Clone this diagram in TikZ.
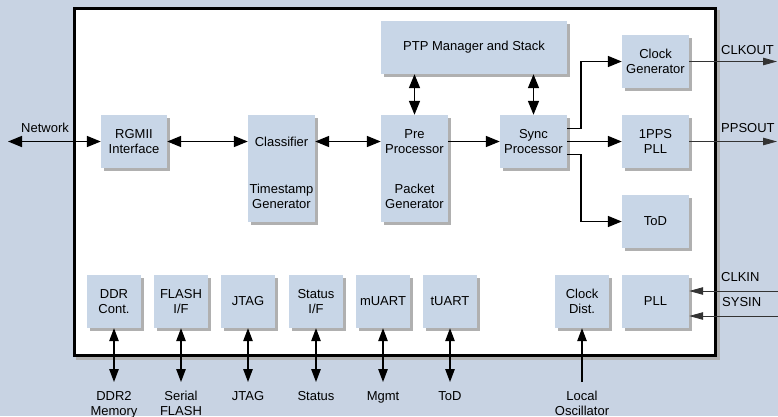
\documentclass[tikz,border=0pt]{standalone}
\usepackage{fontspec}
\setmainfont{Liberation Sans}
\usetikzlibrary{arrows.meta,shadows,calc}

\definecolor{bgblue}{RGB}{200,211,227}
\definecolor{boxblue}{RGB}{200,214,231}
\definecolor{shadowgrey}{RGB}{176,176,176}

\begin{document}
\begin{tikzpicture}[x=1pt,y=-1pt,
  font=\fontsize{13}{15}\selectfont,
  blk/.style={fill=boxblue, draw=none, inner sep=0pt, align=center,
    general shadow={fill=shadowgrey, shadow xshift=3pt, shadow yshift=-3pt}},
  sblk/.style={blk, minimum width=54pt, minimum height=53pt},
  wblk/.style={blk, minimum width=67pt, minimum height=53pt},
  tblk/.style={blk, minimum width=67pt, minimum height=107pt},
  link/.style={line width=1.6pt, {Triangle[length=14pt,width=11pt]}-{Triangle[length=14pt,width=11pt]}},
  feed/.style={line width=1.6pt, -{Triangle[length=14pt,width=11pt]}},
  busarrow/.style={line width=1.2pt, {Triangle[length=13pt,width=9.5pt]}-{Triangle[length=13pt,width=9.5pt]}},
  sigline/.style={line width=0.8pt, draw=black!80, -{Triangle[length=14pt,width=7.5pt]}},
  lbl/.style={inner sep=0pt, align=center, anchor=north}]
\useasboundingbox (0,0) rectangle (778,416);
\fill[bgblue] (0,0) rectangle (778,416);
\draw[shadowgrey, line width=3pt] (77.5,11.5) rectangle (718,358.5);
\draw[line width=3pt, fill=white] (74.5,8.5) rectangle (715,355.5);

\node[wblk, minimum width=66pt] (rgmii) at (134,141.5) {RGMII\\Interface};
\node[tblk] (cls) at (281.5,168.5) {};
\node[tblk] (pre) at (414.5,168.5) {};
\node[blk, minimum width=186pt, minimum height=53pt] (ptp) at (474,47.5) {PTP Manager and Stack};
\node[wblk] (sync) at (533.5,141.5) {Sync\\Processor};
\node[wblk] (clkgen) at (655.5,61.5) {Clock\\Generator};
\node[wblk] (pps) at (655.5,141.5) {1PPS\\PLL};
\node[wblk] (tod) at (655.5,221.5) {ToD};
\node[wblk] (pll) at (655.5,301.5) {PLL};
\node[sblk] (cdist) at (582,301.5) {Clock\\Dist.};
\node[sblk] (ddr) at (114,301.5) {DDR\\Cont.};
\node[sblk] (flash) at (181,301.5) {FLASH\\I/F};
\node[sblk] (jtag) at (248,301.5) {JTAG};
\node[sblk] (status) at (316,301.5) {Status\\I/F};
\node[sblk] (muart) at (383,301.5) {mUART};
\node[sblk] (tuart) at (450,301.5) {tUART};

\node (clsname) at (281.5,141.5) {Classifier};
\node[align=center] (clsts) at (281.5,196.5) {Timestamp\\Generator};
\node[align=center] (prename) at (414.5,141.5) {Pre\\Processor};
\node[align=center] (prepkt) at (414.5,196.5) {Packet\\Generator};

\coordinate (net) at (8,141.5);
\coordinate (clkout) at (777,61.5);
\coordinate (ppsout) at (777,141.5);
\coordinate (clkin) at (778,291);
\coordinate (sysin) at (778,316);
\coordinate (ddrport) at (114,382);
\coordinate (flashport) at (181,382);
\coordinate (jtagport) at (248,382);
\coordinate (statusport) at (316,382);
\coordinate (muartport) at (383,382);
\coordinate (tuartport) at (450,382);
\coordinate (osc) at (582,382);

\node (netlbl) at (45,128) {Network};
\node[anchor=west, inner sep=0pt] (clkoutlbl) at (721,50) {CLKOUT};
\node[anchor=west, inner sep=0pt] (ppsoutlbl) at (721,128) {PPSOUT};
\node[anchor=west, inner sep=0pt] (clkinlbl) at (721,277) {CLKIN};
\node[anchor=west, inner sep=0pt] (sysinlbl) at (722,302) {SYSIN};
\node[lbl] (ddrlbl) at (114,391) {DDR2\\Memory};
\node[lbl] (flashlbl) at (181,391) {Serial\\FLASH};
\node[lbl] (jtaglbl) at (248,391) {JTAG};
\node[lbl] (statuslbl) at (316,391) {Status};
\node[lbl] (muartlbl) at (383,391) {Mgmt};
\node[lbl] (tuartlbl) at (450,391) {ToD};
\node[lbl] (osclbl) at (582,391) {Local\\Oscillator};

\draw[link] (net) -- (rgmii.west);
\draw[link] (rgmii.east) -- (rgmii.east -| cls.west);
\draw[link] (cls.east |- rgmii) -- (pre.west |- rgmii);
\draw[feed] (pre.east |- sync) -- (sync.west);
\draw[link] (ptp.south -| pre) -- (pre.north);
\draw[link] (ptp.south -| sync) -- (sync.north);
\draw[feed] ([yshift=13pt]sync.east) -- ++(14,0) |- (clkgen.west);
\draw[feed] (sync.east) -- (pps.west);
\draw[feed] ([yshift=-13pt]sync.east) -- ++(14,0) |- (tod.west);
\draw[sigline] (clkgen.east) -- (clkout);
\draw[sigline] (pps.east) -- (ppsout);
\draw[sigline] (clkin) -- (clkin -| pll.east);
\draw[sigline] (sysin) -- (sysin -| pll.east);
\draw[busarrow] (ddr.south) -- (ddrport);
\draw[busarrow] (flash.south) -- (flashport);
\draw[busarrow] (jtag.south) -- (jtagport);
\draw[busarrow] (status.south) -- (statusport);
\draw[busarrow] (muart.south) -- (muartport);
\draw[busarrow] (tuart.south) -- (tuartport);
\draw[line width=1.2pt, -{Triangle[length=13pt,width=9.5pt]}] (osc) -- (cdist.south);
\end{tikzpicture}
\end{document}
